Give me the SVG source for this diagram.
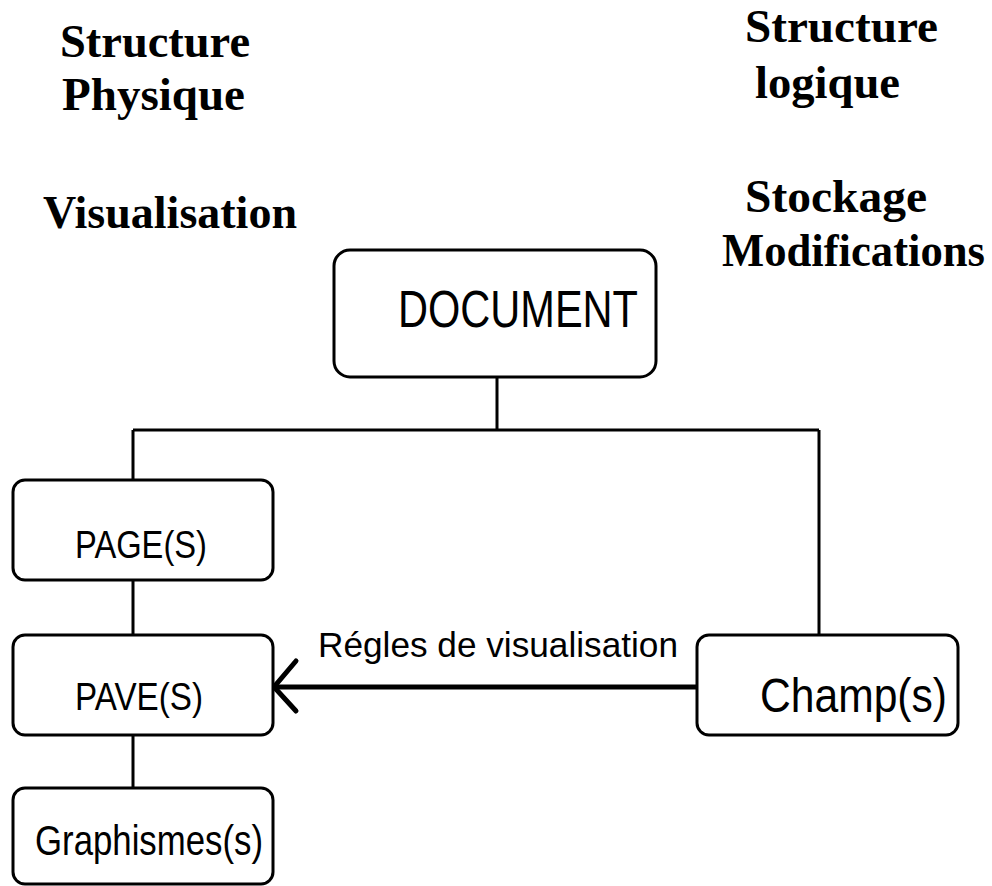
<svg xmlns="http://www.w3.org/2000/svg" width="992" height="886" viewBox="0 0 992 886">
<style>
.box{fill:#fff;stroke:#000;stroke-width:3}
.lbl{font-family:"Liberation Sans",Arial,sans-serif;fill:#000}
.ttl{font-family:"Liberation Serif","Times New Roman",serif;font-weight:bold;font-size:46px;fill:#000}
.con{stroke:#000;stroke-width:3;fill:none}
</style>
<rect width="992" height="886" fill="#fff"/>
<g id="titles">
<text class="ttl" x="60" y="57" textLength="190" lengthAdjust="spacingAndGlyphs">Structure</text>
<text class="ttl" x="62" y="110" textLength="183" lengthAdjust="spacingAndGlyphs">Physique</text>
<text class="ttl" x="43" y="228" textLength="254" lengthAdjust="spacingAndGlyphs">Visualisation</text>
<text class="ttl" x="745" y="42" textLength="193" lengthAdjust="spacingAndGlyphs">Structure</text>
<text class="ttl" x="755" y="98" textLength="145" lengthAdjust="spacingAndGlyphs">logique</text>
<text class="ttl" x="745" y="212" textLength="182" lengthAdjust="spacingAndGlyphs">Stockage</text>
<text class="ttl" x="722" y="266" textLength="263" lengthAdjust="spacingAndGlyphs">Modifications</text>
</g>
<g id="connectors">
<path class="con" d="M497 377V430M133 430H819M133 430V480M819 430V635M133 580V635M133 735V788"/>
<path stroke="#000" stroke-width="5" fill="none" d="M697 687H276"/>
<path stroke="#000" stroke-width="5" fill="none" stroke-linecap="round" d="M296 661L274 687L296 711"/>
<text class="lbl" x="318" y="657" font-size="35" textLength="360" lengthAdjust="spacingAndGlyphs">Régles de visualisation</text>
</g>
<g id="document">
<rect class="box" x="334" y="250" width="322" height="127" rx="16"/>
<text class="lbl" x="398" y="327" font-size="52" textLength="240" lengthAdjust="spacingAndGlyphs">DOCUMENT</text>
</g>
<g id="pages">
<rect class="box" x="13" y="480" width="260" height="100" rx="12"/>
<text class="lbl" x="75" y="558" font-size="39" textLength="132" lengthAdjust="spacingAndGlyphs">PAGE(S)</text>
</g>
<g id="paves">
<rect class="box" x="13" y="635" width="260" height="100" rx="12"/>
<text class="lbl" x="75" y="710" font-size="39" textLength="128" lengthAdjust="spacingAndGlyphs">PAVE(S)</text>
</g>
<g id="champs">
<rect class="box" x="697" y="635" width="261" height="100" rx="12"/>
<text class="lbl" x="760" y="712" font-size="48" textLength="187" lengthAdjust="spacingAndGlyphs">Champ(s)</text>
</g>
<g id="graphismes">
<rect class="box" x="13" y="788" width="260" height="96" rx="12"/>
<text class="lbl" x="35" y="855" font-size="42" textLength="228" lengthAdjust="spacingAndGlyphs">Graphismes(s)</text>
</g>
</svg>
